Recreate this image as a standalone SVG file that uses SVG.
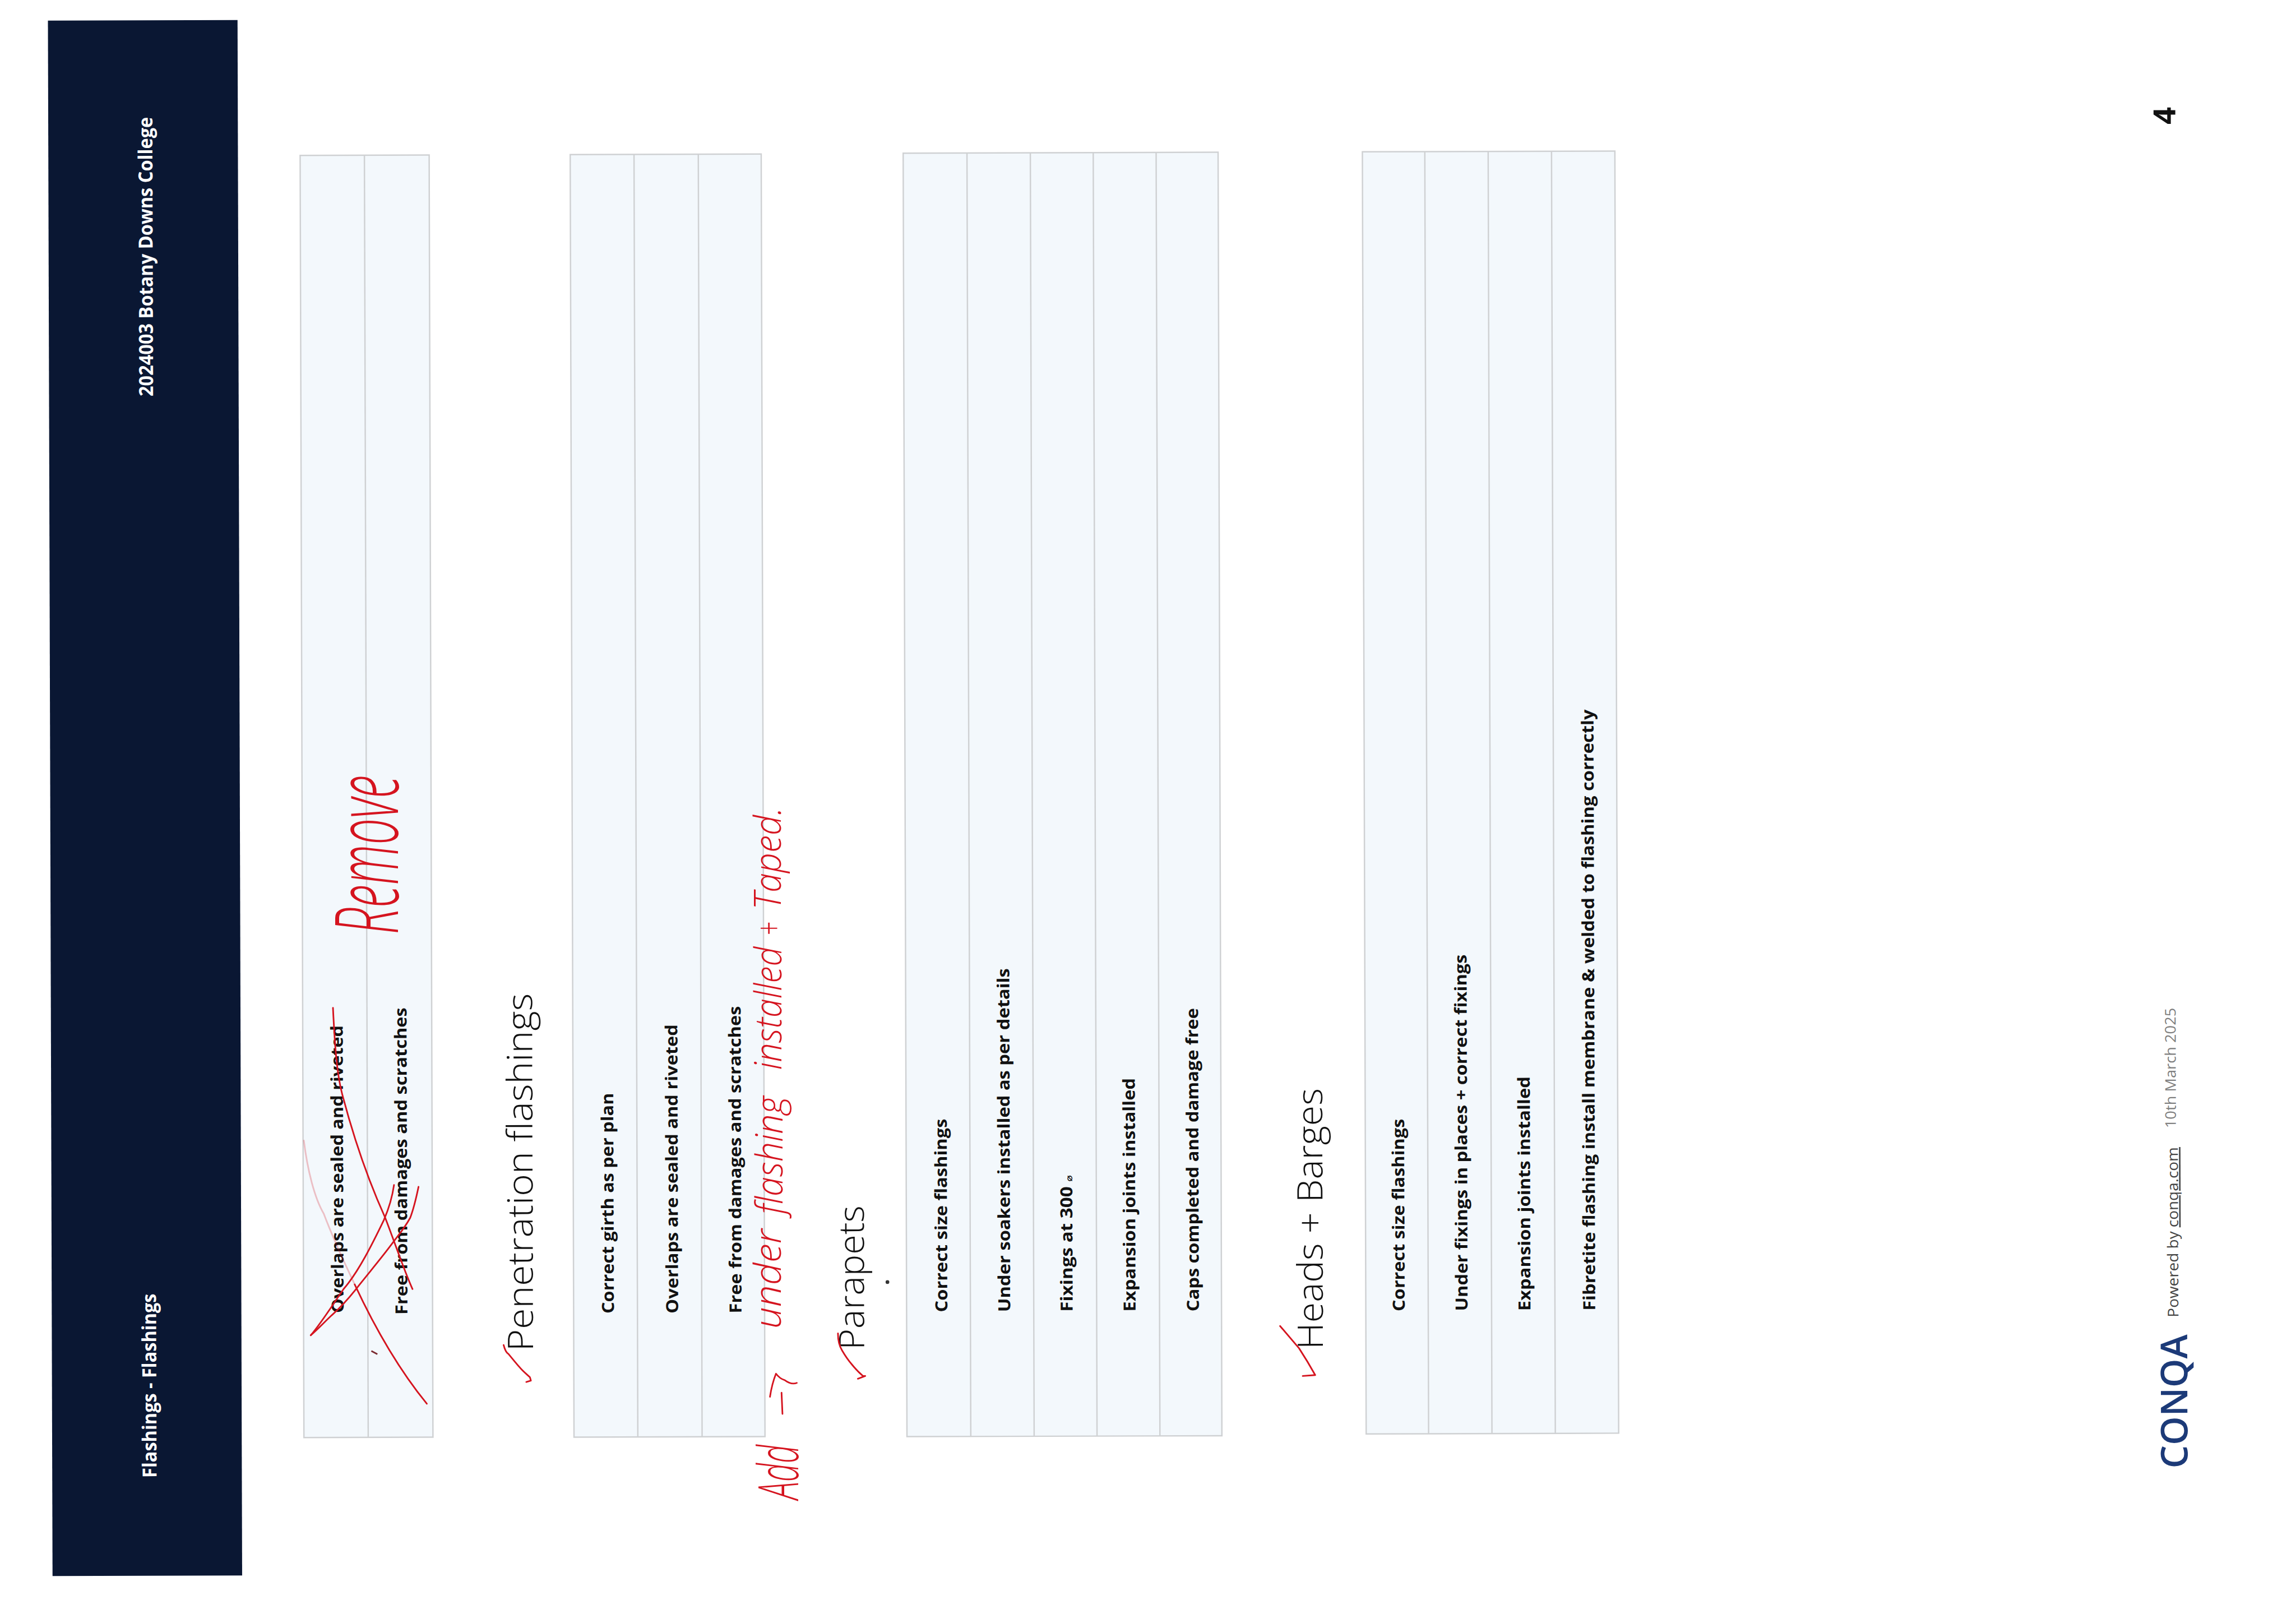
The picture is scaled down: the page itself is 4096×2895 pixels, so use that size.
<svg xmlns="http://www.w3.org/2000/svg" width="4096" height="2895" viewBox="0 0 4096 2895">
<style>
text{font-family:"Open Sans","Liberation Sans",sans-serif}
.row{font-size:36px;font-weight:700;fill:#111}
.hd{font-size:42px;font-weight:700;fill:#fff}
.sec{font-size:76px;font-weight:300;fill:#111}
.cell{fill:#f3f8fc;stroke:#cfd1d3;stroke-width:3}
.div{stroke:#cfd1d3;stroke-width:3;fill:none}
.foot{font-size:32px;fill:#444}
.hand{font-family:"Open Sans",sans-serif;font-style:italic;font-weight:300;fill:#d5141f}
.ink{fill:none;stroke:#d5141f;stroke-width:3.5;stroke-linecap:round;stroke-linejoin:round}
</style>
<rect width="4096" height="2895" fill="#fff"/>
<g transform="scale(.825)">
<g transform="rotate(-.17)">
<g id="header">
<rect x="103.5" y="45" width="410" height="3363" fill="#0a1733"/>
<text class="hd" transform="translate(329 3196) rotate(-90)" textLength="398" lengthAdjust="spacingAndGlyphs">Flashings - Flashings</text>
<text class="hd" transform="translate(328.5 858) rotate(-90)" textLength="604" lengthAdjust="spacingAndGlyphs">2024003 Botany Downs College</text>
</g>
<g id="table-flashings">
<rect class="cell" x="648" y="338" width="279" height="2772"/>
<path class="div" d="M787 338V3110"/>
<text class="row" transform="translate(734.5 2841) rotate(-90)" textLength="622" lengthAdjust="spacingAndGlyphs">Overlaps are sealed and riveted</text>
<text class="row" transform="translate(872.5 2845) rotate(-90)" textLength="664" lengthAdjust="spacingAndGlyphs">Free from damages and scratches</text>
</g>
<g id="section-penetration">
<text class="sec" transform="translate(1144 2925) rotate(-90)" textLength="774" lengthAdjust="spacingAndGlyphs">Penetration flashings</text>
<rect class="cell" x="1232" y="338" width="413" height="2773"/>
<path class="div" d="M1370 338V3111M1509 338V3111"/>
<text class="row" transform="translate(1319 2844) rotate(-90)" textLength="477" lengthAdjust="spacingAndGlyphs">Correct girth as per plan</text>
<text class="row" transform="translate(1458 2844) rotate(-90)" textLength="625" lengthAdjust="spacingAndGlyphs">Overlaps are sealed and riveted</text>
<text class="row" transform="translate(1595 2844) rotate(-90)" textLength="664" lengthAdjust="spacingAndGlyphs">Free from damages and scratches</text>
</g>
<g id="section-parapets">
<text class="sec" transform="translate(1860 2924) rotate(-90)" textLength="312" lengthAdjust="spacingAndGlyphs">Parapets</text>
<rect class="cell" x="1952" y="337" width="681" height="2775"/>
<path class="div" d="M2090 337V3112M2227 337V3112M2363 337V3112M2499 337V3112"/>
<text class="row" transform="translate(2040 2843) rotate(-90)" textLength="418" lengthAdjust="spacingAndGlyphs">Correct size flashings</text>
<text class="row" transform="translate(2176 2843) rotate(-90)" textLength="743" lengthAdjust="spacingAndGlyphs">Under soakers installed as per details</text>
<text class="row" transform="translate(2311 2843) rotate(-90)" textLength="295" lengthAdjust="spacingAndGlyphs">Fixings at 300 <tspan font-size="20" font-family="'DejaVu Sans',sans-serif">⌀</tspan></text>
<text class="row" transform="translate(2447 2843) rotate(-90)" textLength="505" lengthAdjust="spacingAndGlyphs">Expansion joints installed</text>
<text class="row" transform="translate(2584 2843) rotate(-90)" textLength="656" lengthAdjust="spacingAndGlyphs">Caps completed and damage free</text>
</g>
<g id="section-heads">
<text class="sec" transform="translate(2852 2926) rotate(-90)" textLength="565" lengthAdjust="spacingAndGlyphs">Heads + Barges</text>
<rect class="cell" x="2945" y="337" width="546" height="2772"/>
<path class="div" d="M3080 337V3109M3217 337V3109M3354 337V3109"/>
<text class="row" transform="translate(3029 2844) rotate(-90)" textLength="416" lengthAdjust="spacingAndGlyphs">Correct size flashings</text>
<text class="row" transform="translate(3165 2844) rotate(-90)" textLength="771" lengthAdjust="spacingAndGlyphs">Under fixings in places + correct fixings</text>
<text class="row" transform="translate(3301 2844) rotate(-90)" textLength="507" lengthAdjust="spacingAndGlyphs">Expansion joints installed</text>
<text class="row" transform="translate(3441 2844) rotate(-90)" textLength="1300" lengthAdjust="spacingAndGlyphs">Fibretite flashing install membrane &amp; welded to flashing correctly</text>
</g>
<g id="footer">
<text transform="translate(4721 3189) rotate(-90)" font-size="80" font-weight="600" fill="#1c3a78" textLength="290" lengthAdjust="spacingAndGlyphs">CONQA</text>
<text class="foot" transform="translate(4702 2862) rotate(-90)" textLength="368" lengthAdjust="spacingAndGlyphs">Powered by <tspan text-decoration="underline">conqa.com</tspan></text>
<text class="foot" fill-opacity=".7" transform="translate(4698 2453) rotate(-90)" textLength="260" lengthAdjust="spacingAndGlyphs">10th March 2025</text>
<text transform="translate(4703 283) rotate(-90)" font-size="66" font-weight="700" fill="#111">4</text>
</g>
</g>
<g id="annotations">
<path class="ink" d="M720 2179C724 2260 728 2320 740 2366C770 2480 800 2560 833 2633C855 2690 875 2750 892 2787"/>
<path class="ink" stroke-opacity=".25" d="M657 2466C665 2530 680 2590 700 2624C725 2690 745 2730 767 2777"/>
<path class="ink" d="M767 2777C815 2880 870 2970 923 3035"/>
<path class="ink" d="M852 2562C848 2590 840 2615 830 2638C805 2690 775 2750 743 2787C720 2820 695 2860 672 2887"/>
<path class="ink" d="M905 2566C900 2590 895 2612 887 2633C875 2655 862 2670 850 2686C825 2720 795 2755 770 2787C750 2812 735 2828 717 2844C700 2860 686 2875 672 2887"/>
<path d="M803 2921L816 2928" fill="none" stroke="#7a2a30" stroke-width="3.5"/>
<path class="ink" d="M1089 2908C1092 2920 1095 2925 1100 2928C1110 2940 1120 2953 1130 2963C1137 2970 1142 2974 1146 2978L1148 2985L1138 2988"/>
<path class="ink" d="M1812 2883C1812 2900 1816 2912 1821 2920C1828 2932 1835 2942 1842 2950C1850 2960 1858 2968 1866 2975L1871 2975L1855 2981"/>
<path class="ink" d="M2768 2867L2809 2915C2822 2935 2834 2955 2844 2973L2817 2975"/>
<path class="ink" d="M1690 3011L1692 3057M1665 3020C1668 3000 1672 2985 1678 2970C1684 2978 1690 2982 1697 2984C1705 2990 1715 2993 1723 2990"/>
<circle cx="1919" cy="2772" r="4" fill="#333"/>
<text class="hand" font-size="190" transform="translate(860 2020) rotate(-90)" textLength="344" lengthAdjust="spacingAndGlyphs">Remove</text>
<text class="hand" font-size="120" transform="translate(1726 3242) rotate(-90)" textLength="118" lengthAdjust="spacingAndGlyphs">Add</text>
<text class="hand" font-size="80" transform="translate(1688 2873) rotate(-90)" textLength="216" lengthAdjust="spacingAndGlyphs">under</text>
<text class="hand" font-size="80" transform="translate(1692 2625) rotate(-90)" textLength="255" lengthAdjust="spacingAndGlyphs">flashing</text>
<text class="hand" font-size="80" transform="translate(1690 2313) rotate(-90)" textLength="266" lengthAdjust="spacingAndGlyphs">installed</text>
<text class="hand" font-size="76" transform="translate(1690 2023) rotate(-90)" textLength="30" lengthAdjust="spacingAndGlyphs">+</text>
<text class="hand" font-size="80" transform="translate(1688 1967) rotate(-90)" textLength="222" lengthAdjust="spacingAndGlyphs">Taped.</text>
</g>
</g>
</svg>
